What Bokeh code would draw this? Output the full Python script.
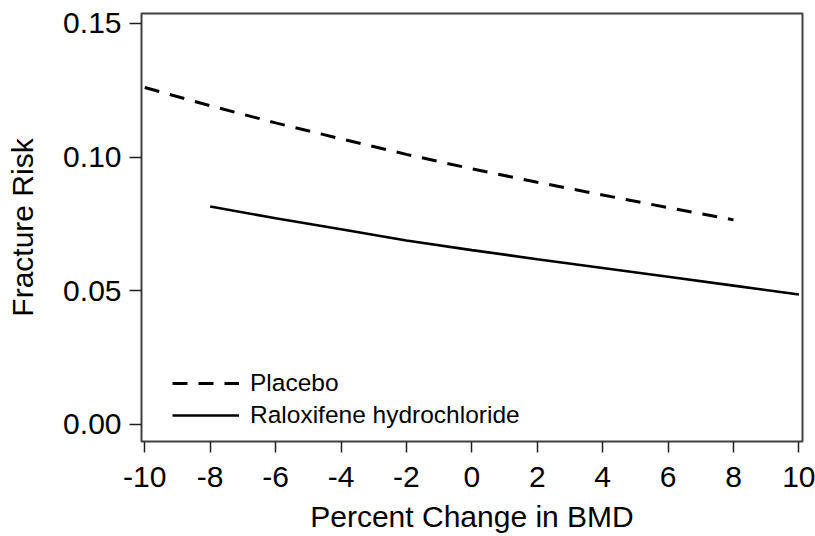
from bokeh.plotting import figure
from bokeh.models import FixedTicker, PrintfTickFormatter, Legend, LegendItem, Range1d
from bokeh.embed import file_html
from bokeh.resources import INLINE

# Data
pct_placebo = [-10, -8, -6, -4, -2, 0, 2, 4, 6, 8]
risk_placebo = [0.1260, 0.1192, 0.1128, 0.1068, 0.1010, 0.0956, 0.0906, 0.0858, 0.0811, 0.0765]
pct_ralox = [-8, -6, -4, -2, 0, 2, 4, 6, 8, 10]
risk_ralox = [0.0815, 0.0771, 0.0730, 0.0688, 0.0652, 0.0618, 0.0585, 0.0552, 0.0519, 0.0486]
x_ticks = [-10, -8, -6, -4, -2, 0, 2, 4, 6, 8, 10]
y_ticks = [0.0, 0.05, 0.10, 0.15]
series_names = ["Placebo", "Raloxifene hydrochloride"]

FONT = "Liberation Sans"

p = figure(width=815, height=536, output_backend="svg", toolbar_location=None,
           x_range=Range1d(-10.1, 10.11), y_range=Range1d(-0.0064, 0.1537),
           min_border_left=141, min_border_right=13, min_border_top=13, min_border_bottom=95)

r1 = p.line(pct_placebo, risk_placebo, line_color="black", line_width=3, line_dash="15 11")
r2 = p.line(pct_ralox, risk_ralox, line_color="black", line_width=2.6)

p.xgrid.visible = False
p.ygrid.visible = False
p.outline_line_color = "#404040"
p.outline_line_width = 2
p.background_fill_color = "white"
p.border_fill_color = "white"

for ax in (p.xaxis[0], p.yaxis[0]):
    ax.axis_line_color = None
    ax.minor_tick_line_color = None
    ax.major_tick_in = 0
    ax.major_tick_line_color = "#202020"
    ax.major_tick_line_width = 1.5
    ax.major_label_text_font = FONT
    ax.major_label_text_font_size = "30px"
    ax.major_label_text_color = "black"
    ax.axis_label_text_font = FONT
    ax.axis_label_text_font_size = "30px"
    ax.axis_label_text_font_style = "normal"
    ax.axis_label_text_color = "black"

p.xaxis[0].ticker = FixedTicker(ticks=x_ticks)
p.xaxis[0].formatter = PrintfTickFormatter(format="%d")
p.xaxis[0].major_tick_out = 11
p.xaxis[0].major_label_standoff = 14
p.xaxis[0].axis_label = "Percent Change in BMD"
p.xaxis[0].axis_label_standoff = 10

p.yaxis[0].ticker = FixedTicker(ticks=y_ticks)
p.yaxis[0].formatter = PrintfTickFormatter(format="%.2f")
p.yaxis[0].major_tick_out = 12
p.yaxis[0].major_label_standoff = 8
p.yaxis[0].axis_label = "Fracture Risk"
p.yaxis[0].axis_label_standoff = 21

legend = Legend(items=[LegendItem(label=series_names[0], renderers=[r1]),
                       LegendItem(label=series_names[1], renderers=[r2])],
                location=(31, 10), orientation="vertical",
                border_line_color=None, background_fill_alpha=0,
                padding=0, margin=0, spacing=0,
                glyph_width=67, glyph_height=32, label_height=32, label_standoff=11,
                label_text_font=FONT, label_text_font_size="24.5px",
                label_text_color="black")
p.add_layout(legend)

open("out.html", "w").write(file_html(p, INLINE))
